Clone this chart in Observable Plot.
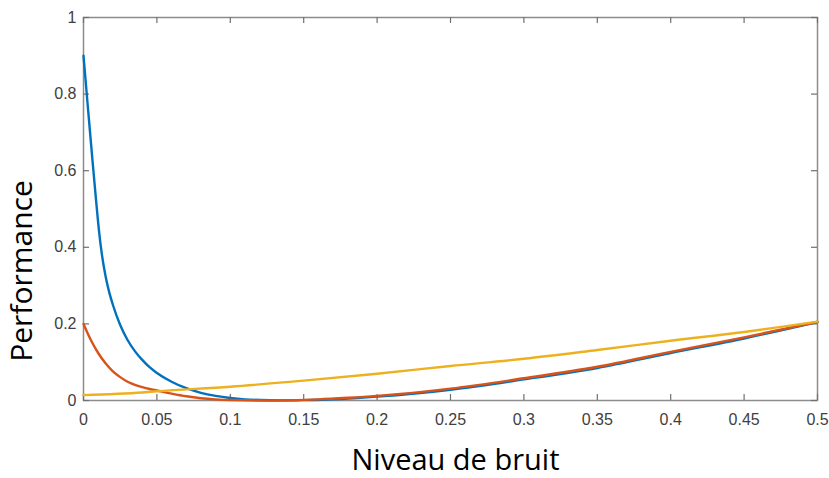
<!DOCTYPE html>
<html><head><meta charset="utf-8">
<script src="https://cdn.jsdelivr.net/npm/d3@7"></script>
<script src="https://cdn.jsdelivr.net/npm/@observablehq/plot@0.6"></script>
<style>body{margin:0;background:#fff}</style>
</head><body><div id="chart"></div>
<script>
const xTicks = [0, 0.05, 0.1, 0.15, 0.2, 0.25, 0.3, 0.35, 0.4, 0.45, 0.5];
const xTickLabels = ["0", "0.05", "0.1", "0.15", "0.2", "0.25", "0.3", "0.35", "0.4", "0.45", "0.5"];
const yTicks = [0, 0.2, 0.4, 0.6, 0.8, 1];
const yTickLabels = ["0", "0.2", "0.4", "0.6", "0.8", "1"];
const xLabel = "Niveau de bruit";
const yLabel = "Performance";

const blueX = [0, 0.003, 0.006, 0.0085, 0.0105, 0.0125, 0.015, 0.0175, 0.02, 0.025, 0.03, 0.035, 0.04, 0.045, 0.05, 0.06, 0.07, 0.08, 0.09, 0.1, 0.11, 0.12, 0.135, 0.15, 0.175, 0.2, 0.25, 0.3, 0.35, 0.4, 0.45, 0.5];
const blueY = [0.90, 0.765, 0.632, 0.525, 0.445, 0.382, 0.325, 0.283, 0.250, 0.197, 0.158, 0.129, 0.106, 0.087, 0.072, 0.049, 0.032, 0.020, 0.012, 0.0065, 0.003, 0.0012, 0.0002, 0.001, 0.004, 0.010, 0.028, 0.055, 0.085, 0.124, 0.162, 0.205];

const redX = [0, 0.005, 0.01, 0.015, 0.02, 0.025, 0.03, 0.035, 0.04, 0.045, 0.05, 0.06, 0.07, 0.08, 0.09, 0.1, 0.12, 0.14, 0.16, 0.18, 0.2, 0.25, 0.3, 0.35, 0.4, 0.45, 0.5];
const redY = [0.20, 0.158, 0.124, 0.097, 0.076, 0.061, 0.049, 0.041, 0.035, 0.030, 0.026, 0.018, 0.011, 0.006, 0.003, 0.0012, 0, 0.0008, 0.003, 0.007, 0.012, 0.031, 0.058, 0.088, 0.127, 0.165, 0.205];

const yellowX = [0, 0.04, 0.05, 0.1, 0.15, 0.2, 0.25, 0.3, 0.35, 0.4, 0.45, 0.5];
const yellowY = [0.014, 0.021, 0.024, 0.036, 0.052, 0.070, 0.090, 0.109, 0.132, 0.156, 0.179, 0.206];

const rows = (xs, ys) => xs.map((x, i) => ({x, y: ys[i]}));
const W = 829, H = 478, mL = 83, mR = 12, mT = 17, mB = 78;
const plotW = W - mL - mR, plotH = H - mT - mB;
const tickLen = 6;
const boxColor = "#8c8c8c";

const chart = Plot.plot({
  width: W, height: H,
  marginLeft: mL, marginRight: mR, marginTop: mT, marginBottom: mB,
  style: {background: "#fff", fontFamily: "'Liberation Sans', Arial, sans-serif", fontSize: "16px"},
  x: {domain: [0, 0.5]},
  y: {domain: [0, 1]},
  marks: [
    Plot.frame({stroke: boxColor, strokeWidth: 1.5}),
    Plot.tickX(xTicks, {x: d => d, insetTop: plotH - tickLen, stroke: "#707070", strokeWidth: 1.2}),
    Plot.tickX(xTicks, {x: d => d, insetBottom: plotH - tickLen, stroke: "#707070", strokeWidth: 1.2}),
    Plot.tickY(yTicks, {y: d => d, insetRight: plotW - tickLen, stroke: "#707070", strokeWidth: 1.2}),
    Plot.tickY(yTicks, {y: d => d, insetLeft: plotW - tickLen, stroke: "#707070", strokeWidth: 1.2}),
    Plot.axisX({ticks: xTicks, tickSize: 0, tickPadding: 13, label: null, color: "#404040",
      tickFormat: d => xTickLabels[xTicks.indexOf(d)]}),
    Plot.axisY({ticks: yTicks, tickSize: 0, tickPadding: 7, label: null, color: "#404040",
      tickFormat: d => yTickLabels[yTicks.indexOf(d)]}),
    Plot.line(rows(blueX, blueY), {x: "x", y: "y", stroke: "#0072BD", strokeWidth: 2.4, curve: "monotone-x"}),
    Plot.line(rows(redX, redY), {x: "x", y: "y", stroke: "#D95319", strokeWidth: 2.4, curve: "monotone-x"}),
    Plot.line(rows(yellowX, yellowY), {x: "x", y: "y", stroke: "#EDB120", strokeWidth: 2.4, curve: "monotone-x"}),
    Plot.text([xLabel], {frameAnchor: "bottom", textAnchor: "middle", lineAnchor: "bottom", dx: 5, dy: 69, fontSize: 29, fontFamily: "'Open Sans', sans-serif", fill: "#000"}),
    Plot.text([yLabel], {frameAnchor: "left", textAnchor: "middle", lineAnchor: "middle", dx: -61, dy: 62, rotate: -90, fontSize: 30, fontFamily: "'Open Sans', sans-serif", fill: "#000"})
  ]
});
document.getElementById("chart").appendChild(chart);
</script>
</body></html>
